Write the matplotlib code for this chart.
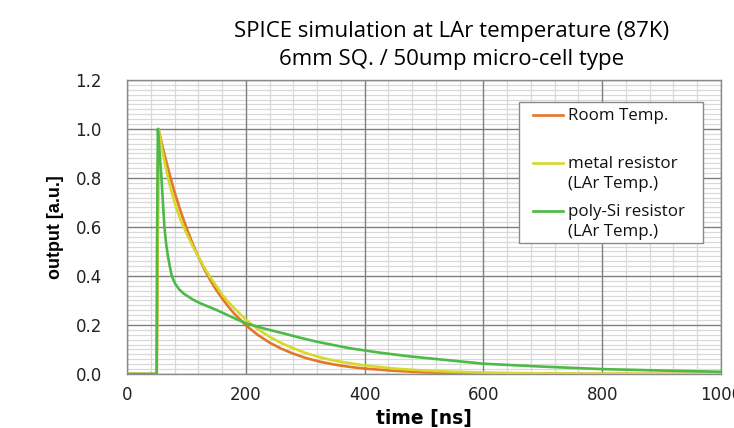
import matplotlib.pyplot as plt
from matplotlib.patches import Rectangle
from matplotlib.lines import Line2D
from matplotlib.ticker import MultipleLocator, FormatStrFormatter

# time axis values (ns)
t_room = [0, 50, 53, 60, 70, 80, 90, 100, 110, 120, 130, 140, 150, 160, 170, 180,
          200, 220, 240, 260, 280, 300, 325, 350, 375, 400, 450, 500, 550, 600,
          700, 800, 1000]
room = [0, 0, 1.0, 0.926, 0.830, 0.743, 0.666, 0.597, 0.535, 0.479, 0.429, 0.384,
        0.344, 0.309, 0.277, 0.248, 0.199, 0.160, 0.128, 0.103, 0.083, 0.066,
        0.050, 0.038, 0.029, 0.022, 0.013, 0.007, 0.004, 0.0024, 0.0008, 0.0003, 0]

t_metal = [0, 50, 53, 60, 70, 80, 90, 100, 110, 120, 130, 140, 150, 160, 170, 180,
           200, 220, 240, 260, 280, 300, 325, 350, 375, 400, 450, 500, 550, 600,
           700, 800, 1000]
metal = [0, 0, 1.0, 0.905, 0.79, 0.70, 0.63, 0.575, 0.525, 0.48, 0.435, 0.395,
         0.36, 0.325, 0.295, 0.27, 0.222, 0.183, 0.152, 0.126, 0.105, 0.086,
         0.068, 0.054, 0.044, 0.035, 0.022, 0.014, 0.009, 0.006, 0.002, 0.001, 0]

t_poly = [0, 50, 50.5, 52, 55, 58, 60.5, 63, 66, 69, 72, 75, 78, 82, 88, 95, 110,
          123, 137, 151, 175, 200, 230, 263, 290, 319, 350, 375, 426, 475, 525,
          600, 700, 800, 900, 1000]
poly = [0, 0, 0.5, 1.0, 0.9, 0.8, 0.7, 0.6, 0.53, 0.48, 0.44, 0.405, 0.385, 0.365,
        0.345, 0.329, 0.305, 0.289, 0.275, 0.261, 0.234, 0.207, 0.186, 0.166,
        0.149, 0.132, 0.117, 0.105, 0.087, 0.072, 0.06, 0.042, 0.03, 0.02,
        0.014, 0.009]

labels = ['Room Temp.', 'metal resistor\n(LAr Temp.)', 'poly-Si resistor\n(LAr Temp.)']
colors = ['#E2762A', '#D6D82A', '#4DB947']

fig = plt.figure(figsize=(7.34, 4.28), dpi=100)
ax = fig.add_axes([0.1730, 0.1262, 0.8093, 0.6869])

ax.plot(t_room, room, color=colors[0], lw=1.9, zorder=3)
ax.plot(t_metal, metal, color=colors[1], lw=1.9, zorder=4)
ax.plot(t_poly, poly, color=colors[2], lw=1.9, zorder=5)

ax.xaxis.set_major_locator(MultipleLocator(200))
ax.xaxis.set_minor_locator(MultipleLocator(40))
ax.yaxis.set_major_locator(MultipleLocator(0.2))
ax.yaxis.set_minor_locator(MultipleLocator(0.02))
ax.yaxis.set_major_formatter(FormatStrFormatter('%.1f'))
ax.set_xlim(0, 1000)
ax.set_ylim(0, 1.2)
ax.grid(which='minor', color='#d9d9d9', lw=0.9)
ax.set_axisbelow(True)
# major grid on top of the minor one
for v in ax.get_xticks():
    ax.axvline(v, color='#7f7f7f', lw=1.0, zorder=1)
for v in ax.get_yticks():
    ax.axhline(v, color='#7f7f7f', lw=1.0, zorder=1)
ax.tick_params(which='both', length=0)
ax.tick_params(axis='y', pad=18, labelsize=12, labelcolor='#222222')
ax.tick_params(axis='x', pad=9, labelsize=12, labelcolor='#222222')
for s in ax.spines.values():
    s.set_color('#8a8a8a')
    s.set_linewidth(1.0)

ax.set_xlabel('time [ns]', fontsize=13.5, fontweight='bold', labelpad=3)
ax.set_ylabel('output [a.u.]', fontsize=12.9, fontweight='bold', family='Liberation Sans', labelpad=8)

# figure pixel helpers
def fx(px):
    return px / 734

def fy(py):
    return 1 - py / 428

fig.text(fx(452), fy(37), 'SPICE simulation at LAr temperature (87K)', ha='center', va='baseline',
         fontsize=16, family='Open Sans')
fig.text(fx(452), fy(65), '6mm SQ. / 50ump micro-cell type', ha='center', va='baseline',
         fontsize=16, family='Open Sans')

# legend box
fig.patches.append(Rectangle((fx(519), fy(243)), fx(703) - fx(519), fy(102) - fy(243),
                             transform=fig.transFigure, facecolor='white', edgecolor='#8a8a8a',
                             lw=1.0, zorder=10))
rows = [115, 163, 211]
for lab, c, yy in zip(labels, colors, rows):
    fig.lines.append(Line2D([fx(533), fx(563)], [fy(yy), fy(yy)], transform=fig.transFigure,
                            color=c, lw=1.9, zorder=11))
    for i, part in enumerate(lab.split('\n')):
        fig.text(fx(568), fy(yy + 5 + 20 * i), part, ha='left', va='baseline', fontsize=12.2,
                 family='Open Sans', zorder=12, color='#111111')

fig.savefig('out.png', dpi=100)
